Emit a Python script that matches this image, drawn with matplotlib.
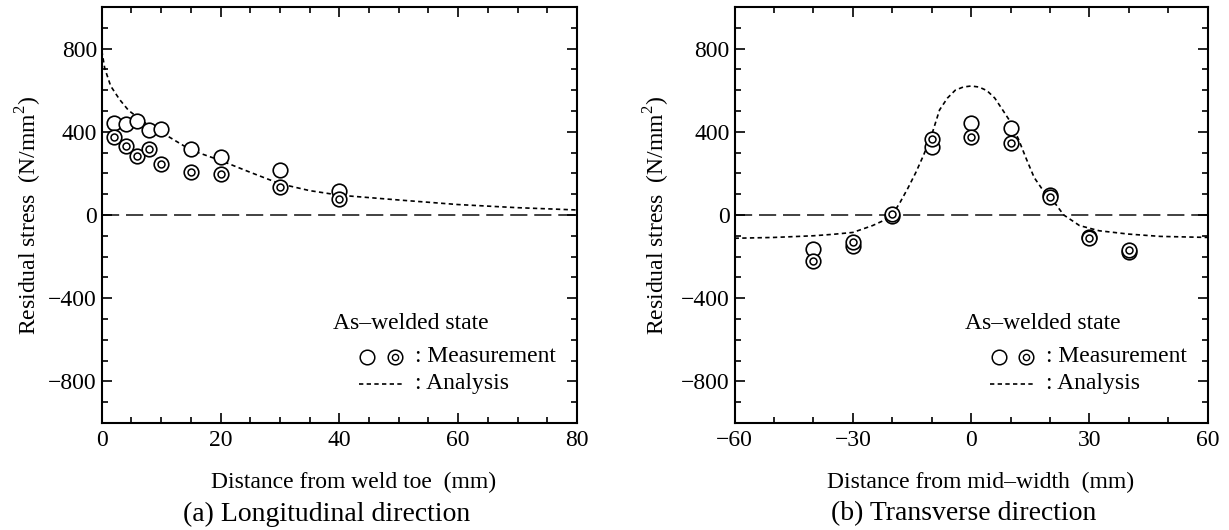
import matplotlib
matplotlib.use("Agg")
import matplotlib.pyplot as plt
from matplotlib.ticker import MultipleLocator

plt.rcParams['font.family'] = ['Liberation Serif', 'DejaVu Serif']
plt.rcParams['mathtext.fontset'] = 'custom'
plt.rcParams['mathtext.rm'] = 'Liberation Serif'

# ---------------- data ----------------
# (a) Longitudinal direction
long_x = [2, 4, 6, 8, 10, 15, 20, 30, 40]
long_open = [442, 438, 451, 410, 411, 318, 281, 218, 117]
long_double = [377, 332, 284, 316, 244, 207, 198, 135, 76]
long_curve_x = [0, 0.5, 1.5, 3, 4.5, 7, 10, 15, 20, 25, 30, 35, 40, 50, 60, 70, 80]
long_curve_y = [790, 705, 620, 555, 503, 448, 398, 312, 262, 205, 150, 117, 95, 72, 50, 35, 24]

# (b) Transverse direction
trans_x = [-40, -30, -20, -10, 0, 10, 20, 30, 40]
trans_open = [-164, -148, -6, 326, 442, 419, 96, -106, -178]
trans_double = [-220, -132, 5, 365, 376, 345, 85, -111, -167]
trans_curve_x = [-60, -50, -40, -35, -30, -25, -22, -20, -18, -16, -14, -12, -10, -8, -6, -4, -2,
                 0, 2, 4, 6, 8, 10, 12, 14, 16, 18, 20, 22, 23.5, 27.5, 32.5, 40, 48, 60]
trans_curve_y = [-112, -108, -100, -93, -84, -51, -25, 0, 61, 130, 205, 290, 385, 505, 562, 600, 615,
                 620, 615, 598, 562, 505, 447, 365, 270, 180, 125, 90, 38, 0, -51, -76, -92, -103, -108]

xlabels = ["Distance from weld toe  (mm)", "Distance from mid\u2013width  (mm)"]
ylabel = "Residual stress  (N/mm$^2$)"
captions = ["(a) Longitudinal direction", "(b) Transverse direction"]

FS = 17
FS_CAP = 20

fig = plt.figure(figsize=(12.29, 5.30), dpi=100)
axL = fig.add_axes([0.0828, 0.2019, 0.3867, 0.785])
axR = fig.add_axes([0.5977, 0.2019, 0.3849, 0.785])


def style(ax, xlim, xmaj, xmin):
    ax.set_xlim(*xlim)
    ax.set_ylim(-1000, 1000)
    ax.xaxis.set_major_locator(MultipleLocator(xmaj))
    ax.xaxis.set_minor_locator(MultipleLocator(xmin))
    ax.yaxis.set_major_locator(MultipleLocator(400))
    ax.yaxis.set_minor_locator(MultipleLocator(100))
    ax.tick_params(which='both', direction='in', top=True, right=True, labelsize=FS, width=1.2)
    ax.tick_params(which='major', length=7)
    ax.tick_params(which='minor', length=4)
    ax.tick_params(axis='x', which='major', pad=5)
    ax.tick_params(axis='y', which='major', pad=3.5)
    for s in ax.spines.values():
        s.set_linewidth(1.5)
    ax.axhline(0, color='#333333', lw=1.3, ls=(0, (9.5, 3.8)), zorder=1)


def draw(ax, x, yo, yd, cx, cy):
    ax.plot(cx, cy, color='black', lw=1.2, ls=(0, (2.6, 2.0)), zorder=2)
    ax.plot(x, yo, ls='none', marker='o', ms=10.5, mfc='white', mec='black', mew=1.2, zorder=3)
    ax.plot(x, yd, ls='none', marker='o', ms=10.5, mfc='white', mec='black', mew=1.2, zorder=4)
    ax.plot(x, yd, ls='none', marker='o', ms=5, mfc='white', mec='black', mew=1.1, zorder=5)


def legend(ax):
    t = ax.transAxes
    ax.text(0.487, 0.240, "As\u2013welded state", transform=t, fontsize=FS, va='center', ha='left')
    ax.plot([0.558], [0.159], transform=t, marker='o', ms=10.5, mfc='white', mec='black', mew=1.1,
            clip_on=False)
    ax.plot([0.617], [0.159], transform=t, marker='o', ms=10.5, mfc='white', mec='black', mew=1.1,
            clip_on=False)
    ax.plot([0.617], [0.159], transform=t, marker='o', ms=4.5, mfc='white', mec='black', mew=1.0,
            clip_on=False)
    ax.text(0.659, 0.159, ": Measurement", transform=t, fontsize=FS, va='center', ha='left')
    ax.plot([0.541, 0.632], [0.094, 0.094], transform=t, color='black', lw=1.2, ls=(0, (2.6, 2.0)))
    ax.text(0.659, 0.094, ": Analysis", transform=t, fontsize=FS, va='center', ha='left')


style(axL, (0, 80), 20, 5)
style(axR, (-60, 60), 30, 10)
draw(axL, long_x, long_open, long_double, long_curve_x, long_curve_y)
draw(axR, trans_x, trans_open, trans_double, trans_curve_x, trans_curve_y)
legend(axL)
legend(axR)

for ax, xl in zip([axL, axR], xlabels):
    ax.set_xlabel(xl, fontsize=FS)
    ax.set_ylabel(ylabel, fontsize=FS)
axL.xaxis.set_label_coords(0.53, -0.118)
axR.xaxis.set_label_coords(0.52, -0.118)
axL.yaxis.set_label_coords(-0.121, 0.5)
axR.yaxis.set_label_coords(-0.132, 0.5)

fig.text(0.266, 0.030, captions[0], fontsize=FS_CAP, ha='center', va='center')
fig.text(0.784, 0.030, captions[1], fontsize=FS_CAP, ha='center', va='center')

fig.savefig("out.png", dpi=100)
